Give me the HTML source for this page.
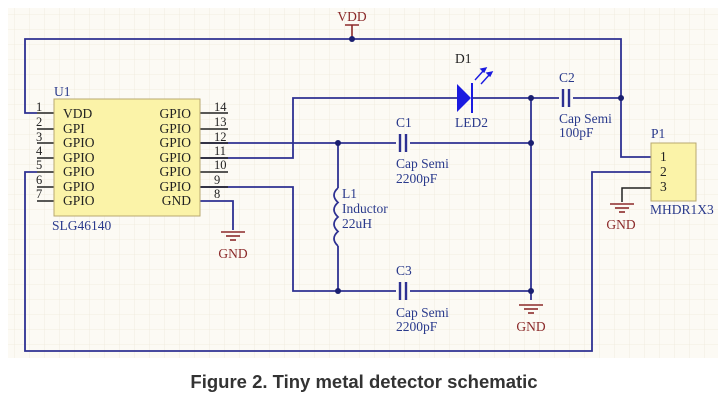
<!DOCTYPE html>
<html><head><meta charset="utf-8"><style>
html,body{margin:0;padding:0;background:#fff;width:727px;height:411px;overflow:hidden}
svg{display:block}
.t{font-family:"Liberation Serif",serif;font-size:13.5px}
.b{fill:#2a3a8c}.r{fill:#8b2a2a}.k{fill:#222}
</style></head><body>
<svg width="727" height="411" viewBox="0 0 727 411">
<defs>
<pattern id="g" width="15" height="15" patternUnits="userSpaceOnUse">
<path d="M15 0V15H0" fill="none" stroke="#efe9dc" stroke-width="0.8"/>
</pattern>
<g id="gnd" stroke="#8b2a2a" stroke-width="1.6">
<line x1="-12" y1="0" x2="12" y2="0"/><line x1="-7" y1="4" x2="7" y2="4"/><line x1="-3" y1="8" x2="3" y2="8"/>
</g>
</defs>
<rect x="8" y="8" width="710" height="350" fill="#fcfaf4"/>
<rect x="8" y="8" width="710" height="350" fill="url(#g)"/>
<g fill="none" stroke="#2e3192" stroke-width="1.8">
<path d="M37 113H25V39H621V157H651"/>
<path d="M37 172H25V351H592V172H651"/>
<path d="M200 143H531"/>
<path d="M200 158H293V98H457"/>
<path d="M471 98H621"/>
<path d="M200 187H293V291H531"/>
<path d="M531 98V300"/>
<path d="M338 143V188"/>
<path d="M338 246V291"/>
</g>
<g stroke="#222" stroke-width="1.5">
<line x1="37" y1="113" x2="54" y2="113"/><line x1="37" y1="129" x2="54" y2="129"/><line x1="37" y1="143" x2="54" y2="143"/><line x1="37" y1="158" x2="54" y2="158"/><line x1="37" y1="172" x2="54" y2="172"/><line x1="37" y1="187" x2="54" y2="187"/><line x1="37" y1="201" x2="54" y2="201"/>
<line x1="200" y1="113" x2="228" y2="113"/><line x1="200" y1="129" x2="228" y2="129"/><line x1="200" y1="143" x2="228" y2="143"/><line x1="200" y1="158" x2="228" y2="158"/><line x1="200" y1="172" x2="228" y2="172"/><line x1="200" y1="187" x2="228" y2="187"/>
</g>
<path d="M200 201H233V230" fill="none" stroke="#2e3192" stroke-width="1.8"/>
<path d="M651 188H622V202" fill="none" stroke="#222" stroke-width="1.5"/>
<rect x="54" y="99" width="146" height="117" fill="#fbf3a8" stroke="#b8a870" stroke-width="1"/>
<rect x="651" y="143" width="45" height="58" fill="#fbf3a8" stroke="#b8a870" stroke-width="1"/>
<path d="M352 39V25M345 25H359" stroke="#8b2a2a" stroke-width="1.6"/>
<text x="352" y="21" class="t r" text-anchor="middle">VDD</text>
<use href="#gnd" x="233" y="232"/><text x="233" y="258" class="t r" text-anchor="middle">GND</text>
<use href="#gnd" x="531" y="305"/><text x="531" y="331" class="t r" text-anchor="middle">GND</text>
<use href="#gnd" x="622" y="204"/><text x="621" y="229" class="t r" text-anchor="middle">GND</text>
<g fill="#1a1f70"><circle cx="352" cy="39" r="3"/><circle cx="531" cy="98" r="3"/><circle cx="621" cy="98" r="3"/><circle cx="338" cy="143" r="3"/><circle cx="531" cy="143" r="3"/><circle cx="338" cy="291" r="3"/><circle cx="531" cy="291" r="3"/></g>
<g fill="#fcfaf4"><rect x="396" y="136" width="14" height="14"/><rect x="559" y="91" width="14" height="14"/><rect x="396" y="284" width="14" height="14"/></g>
<g stroke="#2e3192" stroke-width="2.4">
<line x1="400" y1="134" x2="400" y2="152"/><line x1="406" y1="134" x2="406" y2="152"/>
<line x1="563" y1="89" x2="563" y2="107"/><line x1="569" y1="89" x2="569" y2="107"/>
<line x1="400" y1="282" x2="400" y2="300"/><line x1="406" y1="282" x2="406" y2="300"/>
</g>
<path d="M457 84L471 98L457 112Z" fill="#1a1ae0"/>
<line x1="472" y1="83" x2="472" y2="113" stroke="#1a1ae0" stroke-width="2"/>
<g stroke="#1a1ae0" stroke-width="1.4" fill="#1a1ae0">
<line x1="475" y1="80" x2="484" y2="70"/><path d="M486 68l-5 1 3 3z"/>
<line x1="481" y1="84" x2="490" y2="74"/><path d="M492 72l-5 1 3 3z"/>
</g>
<path d="M338 188 q-8 7 0 14.5 q-8 7 0 14.5 q-8 7 0 14.5 q-8 7 0 14.5" fill="none" stroke="#2e3192" stroke-width="1.8"/>
<g class="t">
<text x="54" y="96" class="b">U1</text>
<text x="52" y="230" class="b">SLG46140</text>
<text x="63" y="118" class="k">VDD</text><text x="63" y="133" class="k">GPI</text><text x="63" y="147" class="k">GPIO</text><text x="63" y="162" class="k">GPIO</text><text x="63" y="176" class="k">GPIO</text><text x="63" y="191" class="k">GPIO</text><text x="63" y="205" class="k">GPIO</text>
<g text-anchor="end"><text x="191" y="118" class="k">GPIO</text><text x="191" y="133" class="k">GPIO</text><text x="191" y="147" class="k">GPIO</text><text x="191" y="162" class="k">GPIO</text><text x="191" y="176" class="k">GPIO</text><text x="191" y="191" class="k">GPIO</text><text x="191" y="205" class="k">GND</text></g>
<g class="k" font-size="12.5"><text x="36" y="111">1</text><text x="36" y="126">2</text><text x="36" y="141">3</text><text x="36" y="155">4</text><text x="36" y="169">5</text><text x="36" y="184">6</text><text x="36" y="198">7</text>
<text x="214" y="111">14</text><text x="214" y="126">13</text><text x="214" y="141">12</text><text x="214" y="155">11</text><text x="214" y="169">10</text><text x="214" y="184">9</text><text x="214" y="198">8</text></g>
<text x="455" y="63" class="k">D1</text><text x="455" y="127" class="b">LED2</text>
<text x="559" y="82" class="b">C2</text><text x="559" y="123" class="b">Cap Semi</text><text x="559" y="137" class="b">100pF</text>
<text x="396" y="127" class="b">C1</text><text x="396" y="168" class="b">Cap Semi</text><text x="396" y="183" class="b">2200pF</text>
<text x="342" y="198" class="b">L1</text><text x="342" y="213" class="b">Inductor</text><text x="342" y="228" class="b">22uH</text>
<text x="396" y="275" class="b">C3</text><text x="396" y="317" class="b">Cap Semi</text><text x="396" y="331" class="b">2200pF</text>
<text x="651" y="138" class="b">P1</text><text x="650" y="214" class="b">MHDR1X3</text>
<text x="660" y="161" class="k">1</text><text x="660" y="176" class="k">2</text><text x="660" y="191" class="k">3</text>
</g>
<text x="364" y="388" text-anchor="middle" font-family="Liberation Sans, sans-serif" font-weight="bold" font-size="18.5" fill="#333">Figure 2. Tiny metal detector schematic</text>
</svg>
</body></html>
